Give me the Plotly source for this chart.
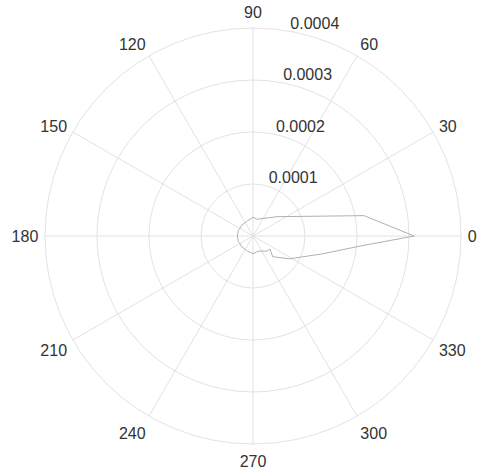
import plotly.graph_objects as go

# data (angle in degrees, magnitude)
theta_deg = [0, 10.4, 39, 77, 90, 110, 135, 160, 180, 200, 225, 250, 270, 290, 313.6, 322.6, 313.6, 328.1, 345.6, 354.8, 0]
r_vals = [0.00031, 0.000217, 0.000059, 0.000033, 0.000036, 0.000031, 0.000030, 0.000030, 0.000030, 0.000030,
          0.000030, 0.000031, 0.000034, 0.000031, 0.000040, 0.000041, 0.000055, 0.000083, 0.000138, 0.000209, 0.00031]

angle_ticks = [0, 30, 60, 90, 120, 150, 180, 210, 240, 270, 300, 330]
angle_labels = [str(a) for a in angle_ticks]
radial_ticks = [0.0001, 0.0002, 0.0003, 0.0004]
radial_labels = ["0.0001", "0.0002", "0.0003", "0.0004"]

fig = go.Figure()
fig.add_trace(go.Scatterpolar(
    r=r_vals, theta=theta_deg, mode="lines",
    line=dict(color="#b0b0b0", width=1), showlegend=False, hoverinfo="skip"))

fig.update_layout(
    width=489, height=470,
    margin=dict(l=45, r=28, t=28, b=26),
    paper_bgcolor="white",
    font=dict(family="Liberation Sans, Arial, sans-serif", size=16, color="#333"),
    polar=dict(
        bgcolor="white",
        domain=dict(x=[0, 1], y=[0, 1]),
        radialaxis=dict(range=[0, 0.0004], tickvals=radial_ticks,
                        ticktext=[t + "<br> " for t in radial_labels],
                        angle=82, tickangle=82, showline=False, ticks="",
                        gridcolor="#e2e2e2", gridwidth=1, tickfont=dict(size=16, color="#333")),
        angularaxis=dict(tickvals=angle_ticks, ticktext=angle_labels, rotation=0,
                         direction="counterclockwise", gridcolor="#e2e2e2", linecolor="#e2e2e2",
                         ticks="outside", ticklen=3, tickcolor="rgba(0,0,0,0)",
                         tickfont=dict(size=16, color="#333")),
    ),
)

fig.write_html("out.html", config={"displayModeBar": False},
               post_script="document.body.style.margin='0';")
